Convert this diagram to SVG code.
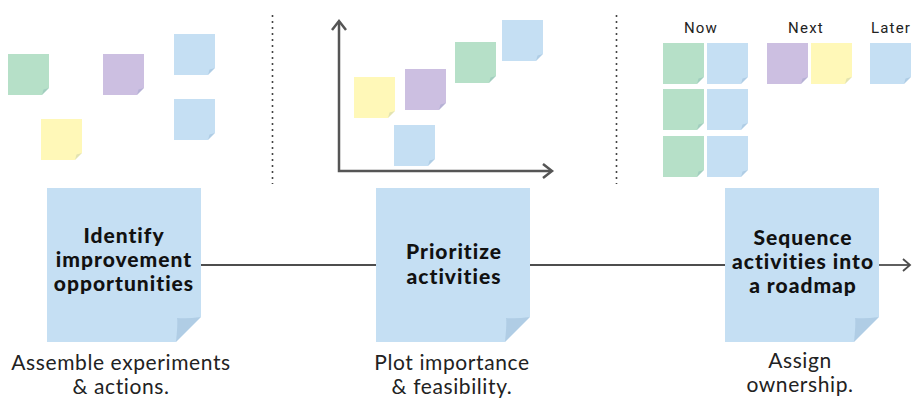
<svg xmlns="http://www.w3.org/2000/svg" xmlns:xlink="http://www.w3.org/1999/xlink" width="912" height="398" viewBox="0 0 912 398">
<style>
.b{fill:#c5dff3}.g{fill:#b6e0c8}.p{fill:#ccbfe1}.y{fill:#fff8b8}
.fold{fill:#1a4f80;fill-opacity:.12}
.h{font-family:Lato,"Open Sans",sans-serif;font-weight:900;font-size:21px;letter-spacing:1px;fill:#111;text-anchor:middle}
.s{font-family:Lato,"Open Sans",sans-serif;font-weight:400;font-size:21px;letter-spacing:0.6px;fill:#222;text-anchor:middle}
.c{font-family:Roboto,"Open Sans",sans-serif;font-weight:400;font-size:15px;letter-spacing:1.2px;fill:#222;text-anchor:middle}
.dot{stroke:#444;stroke-width:1.6;stroke-dasharray:2 4;fill:none}
.ax{stroke:#555;stroke-width:2.5;fill:none}
.con{stroke:#4d4d4d;stroke-width:1.8;fill:none}
</style>
<defs>
<symbol id="sn" viewBox="0 0 41 41" overflow="visible">
<path d="M0,0H41V34L34,41H0Z"/>
<path class="fold" d="M41,34L34,41L35.5,35.5Z"/>
</symbol>
<symbol id="bn" viewBox="0 0 154 154" overflow="visible">
<path d="M0,0H154V129L129,154H0Z"/>
<path class="fold" d="M154,129L129,154Q131,134 130,130Q140,131 154,129Z"/>
</symbol>
<marker id="chev" markerWidth="12" markerHeight="14" refX="9" refY="7" orient="auto" markerUnits="userSpaceOnUse">
<path d="M2,1L9,7L2,13" fill="none" stroke="#4d4d4d" stroke-width="1.8"/>
</marker>
</defs>
<rect width="912" height="398" fill="#fff"/>

<g id="dividers">
<line class="dot" x1="272.5" y1="15" x2="272.5" y2="184"/>
<line class="dot" x1="616.5" y1="15" x2="616.5" y2="184"/>
</g>

<g id="scatter-notes">
<use href="#sn" class="g" x="8" y="54" width="41" height="41"/>
<use href="#sn" class="p" x="103" y="54" width="41" height="41"/>
<use href="#sn" class="b" x="174" y="34" width="41" height="41"/>
<use href="#sn" class="b" x="174" y="99" width="41" height="41"/>
<use href="#sn" class="y" x="41" y="119" width="41" height="41"/>
</g>

<g id="chart">
<path class="ax" d="M339,22V171H551"/>
<path class="ax" d="M332,30L339,21L346,30"/>
<path class="ax" d="M543,164L552,171L543,178"/>
<use href="#sn" class="y" x="354" y="77" width="41" height="41"/>
<use href="#sn" class="p" x="405" y="69" width="41" height="41"/>
<use href="#sn" class="g" x="455" y="42" width="41" height="41"/>
<use href="#sn" class="b" x="502" y="20" width="41" height="41"/>
<use href="#sn" class="b" x="394" y="125" width="41" height="41"/>
</g>

<g id="roadmap">
<text class="c" x="701" y="33">Now</text>
<text class="c" x="806" y="33">Next</text>
<text class="c" x="891" y="33">Later</text>
<use href="#sn" class="g" x="663" y="43" width="41" height="41"/>
<use href="#sn" class="b" x="707" y="43" width="41" height="41"/>
<use href="#sn" class="g" x="663" y="89" width="41" height="41"/>
<use href="#sn" class="b" x="707" y="89" width="41" height="41"/>
<use href="#sn" class="g" x="663" y="136" width="41" height="41"/>
<use href="#sn" class="b" x="707" y="136" width="41" height="41"/>
<use href="#sn" class="p" x="767" y="43" width="41" height="41"/>
<use href="#sn" class="y" x="811" y="43" width="41" height="41"/>
<use href="#sn" class="b" x="870" y="43" width="41" height="41"/>
</g>

<g id="connectors">
<line class="con" x1="200" y1="265" x2="376" y2="265"/>
<line class="con" x1="530" y1="265" x2="725" y2="265"/>
<line class="con" x1="879" y1="265" x2="910" y2="265" marker-end="url(#chev)"/>
</g>

<g id="step1">
<use href="#bn" class="b" x="47" y="188" width="154" height="154"/>
<text class="h" x="124" y="243">Identify</text>
<text class="h" x="124" y="267">improvement</text>
<text class="h" x="124" y="291">opportunities</text>
<text class="s" x="121" y="370">Assemble experiments</text>
<text class="s" x="121" y="394">&amp; actions.</text>
</g>

<g id="step2">
<use href="#bn" class="b" x="376" y="188" width="154" height="154"/>
<text class="h" x="454" y="259">Prioritize</text>
<text class="h" x="454" y="284">activities</text>
<text class="s" x="452" y="370">Plot importance</text>
<text class="s" x="452" y="394">&amp; feasibility.</text>
</g>

<g id="step3">
<use href="#bn" class="b" x="725" y="188" width="154" height="154"/>
<text class="h" x="803" y="245">Sequence</text>
<text class="h" x="803" y="269">activities into</text>
<text class="h" x="803" y="293">a roadmap</text>
<text class="s" x="800" y="368">Assign</text>
<text class="s" x="800" y="392">ownership.</text>
</g>
</svg>
